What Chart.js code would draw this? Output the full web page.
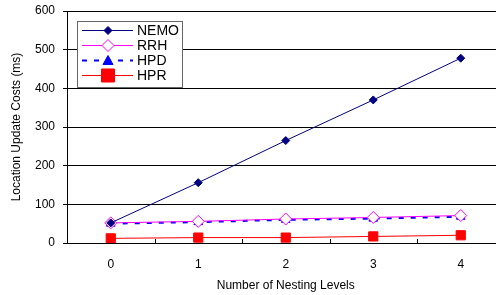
<!DOCTYPE html>
<html>
<head>
<meta charset="utf-8">
<script src="https://cdn.jsdelivr.net/npm/chart.js@4"></script>
<style>
  html, body { margin: 0; padding: 0; background: #fff; overflow: hidden; }
  #wrap { width: 512px; height: 295px; }
</style>
</head>
<body>
<div id="wrap"><canvas id="costChart" width="512" height="295"></canvas></div>
<script>
// Nesting levels along the x axis
const levels = ["0", "1", "2", "3", "4"];

// Location update costs (ms) per scheme
const nemo = [52, 156, 265, 370, 478];
const rrh = [52, 56, 62, 66, 71];
const hpd = [50, 54, 60, 63, 68];
const hpr = [12, 14, 14, 17, 20];

const yTicks = [0, 100, 200, 300, 400, 500, 600];

const FONT = "'Liberation Sans', Arial, sans-serif";

function drawMarker(ctx, style, r, x, y) {
    if (style === 'rectRot') {
        ctx.moveTo(x, y - r); ctx.lineTo(x + r, y); ctx.lineTo(x, y + r); ctx.lineTo(x - r, y); ctx.closePath();
    } else if (style === 'triangle') {
        ctx.moveTo(x, y - r); ctx.lineTo(x + r, y + r * 0.8); ctx.lineTo(x - r, y + r * 0.8); ctx.closePath();
    } else {
        ctx.rect(x - r, y - r, 2 * r, 2 * r);
    }
}

// Legend box drawn inside the plot, top-left
const insideLegend = {
    id: 'insideLegend',
    afterDraw(chart) {
        const ctx = chart.ctx;
        const area = chart.chartArea;
        const x0 = Math.round(area.left) + 10, y0 = Math.round(area.top) + 10;
        const w = 105, rowH = 15;
        const h = chart.data.datasets.length * rowH + 6;
        ctx.save();
        ctx.fillStyle = '#fff';
        ctx.fillRect(x0, y0, w, h);
        ctx.strokeStyle = '#666';
        ctx.lineWidth = 1;
        ctx.strokeRect(x0 + 0.5, y0 + 0.5, w, h);
        chart.data.datasets.forEach((ds, i) => {
            const cy = y0 + 9 + i * rowH + 0.5;
            ctx.strokeStyle = ds.borderColor;
            ctx.lineWidth = ds.borderWidth;
            ctx.setLineDash(ds.borderDash || []);
            ctx.beginPath();
            ctx.moveTo(x0 + 5, cy);
            ctx.lineTo(x0 + 56, cy);
            ctx.stroke();
            ctx.setLineDash([]);
            ctx.fillStyle = ds.pointBackgroundColor;
            ctx.strokeStyle = ds.pointBorderColor;
            ctx.lineWidth = 1;
            ctx.beginPath();
            drawMarker(ctx, ds.pointStyle, ds.pointRadius, x0 + 31, cy);
            ctx.fill();
            ctx.stroke();
            ctx.fillStyle = '#000';
            ctx.font = '14px ' + FONT;
            ctx.textBaseline = 'middle';
            ctx.fillText(ds.label, x0 + 60, cy + 1);
        });
        ctx.restore();
    }
};

// Small inward tick marks between the categories on the x axis
const xInnerTicks = {
    id: 'xInnerTicks',
    afterDraw(chart) {
        const ctx = chart.ctx;
        const xs = chart.scales.x;
        const area = chart.chartArea;
        ctx.save();
        ctx.strokeStyle = '#000';
        ctx.lineWidth = 1;
        for (let i = 0; i < levels.length - 1; i++) {
            const px = Math.round((xs.getPixelForValue(i) + xs.getPixelForValue(i + 1)) / 2) + 0.5;
            ctx.beginPath();
            ctx.moveTo(px, area.bottom);
            ctx.lineTo(px, area.bottom - 4);
            ctx.stroke();
        }
        ctx.restore();
    }
};

function series(label, data, color, style, radius, fill, width, dash) {
    return {
        label: label,
        data: data,
        borderColor: color,
        borderWidth: width,
        borderDash: dash,
        pointStyle: style,
        pointRadius: radius,
        pointHoverRadius: radius,
        pointBackgroundColor: fill,
        pointBorderColor: color,
        pointBorderWidth: 1,
        tension: 0,
        fill: false
    };
}

document.addEventListener('DOMContentLoaded', function() {
    const ctx = document.getElementById('costChart').getContext('2d');
    new Chart(ctx, {
        type: 'line',
        data: {
            labels: levels,
            datasets: [
                series('NEMO', nemo, '#000080', 'rectRot', 4, '#000080', 1, []),
                series('RRH', rrh, '#FF00FF', 'rectRot', 6, '#FFFFFF', 1, []),
                series('HPD', hpd, '#0000FF', 'triangle', 5, '#0000FF', 2, [5, 7]),
                series('HPR', hpr, '#FF0000', 'rect', 6.5, '#FF0000', 1, [])
            ]
        },
        options: {
            responsive: false,
            animation: false,
            devicePixelRatio: 1,
            layout: { padding: { top: 11, right: 0, left: 0, bottom: 0 } },
            plugins: {
                legend: { display: false },
                tooltip: { enabled: false }
            },
            scales: {
                x: {
                    type: 'category',
                    offset: true,
                    grid: { display: false, offset: true },
                    border: { color: '#000', width: 1 },
                    ticks: {
                        color: '#000',
                        font: { family: FONT, size: 12 },
                        padding: 6,
                        maxRotation: 0
                    },
                    title: {
                        display: true,
                        text: 'Number of Nesting Levels',
                        color: '#000',
                        font: { family: FONT, size: 12 },
                        padding: { top: 6, bottom: 2 }
                    },
                    afterFit: function(scale) { scale.height = 52; scale.paddingTop = 0; scale.paddingBottom = 0; }
                },
                y: {
                    min: 0,
                    max: 600,
                    afterBuildTicks: function(scale) {
                        scale.ticks = yTicks.map(v => ({ value: v }));
                    },
                    grid: { color: '#000', lineWidth: 1, tickLength: 4 },
                    border: { color: '#000', width: 1 },
                    ticks: {
                        color: '#000',
                        font: { family: FONT, size: 12 },
                        padding: 8
                    },
                    title: {
                        display: true,
                        text: 'Location Update Costs (ms)',
                        color: '#000',
                        font: { family: FONT, size: 12 },
                        padding: { top: 9, bottom: 0 }
                    },
                    afterFit: function(scale) { scale.width = 67; scale.paddingTop = 0; scale.paddingBottom = 0; }
                }
            }
        },
        plugins: [insideLegend, xInnerTicks]
    });
});
</script>
</body>
</html>
